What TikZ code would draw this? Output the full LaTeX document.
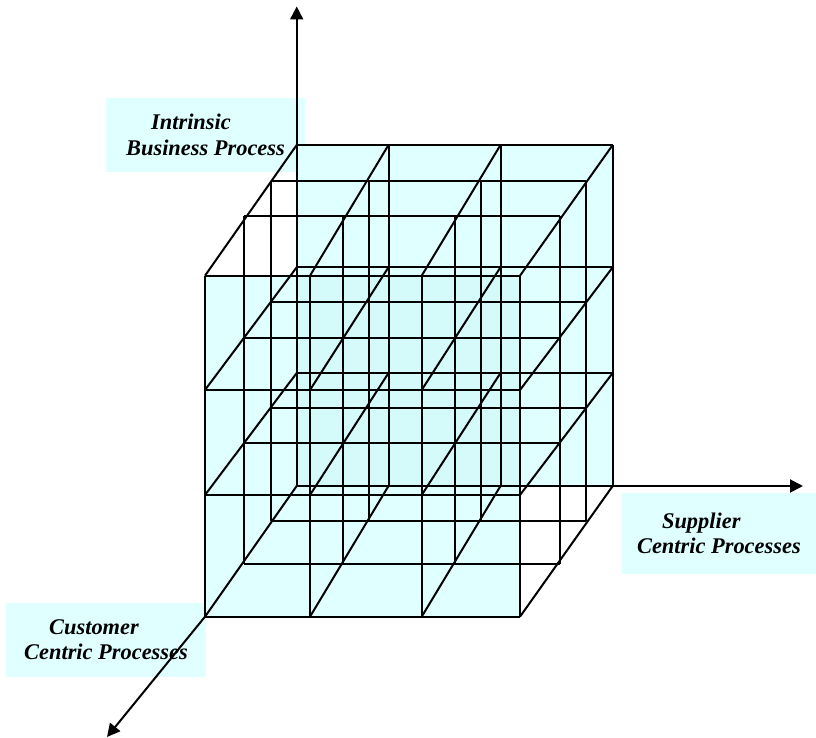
\documentclass[tikz,border=0pt]{standalone}
\usepackage{fontspec}
\setmainfont{Liberation Serif}
\usetikzlibrary{arrows.meta}
\definecolor{cube_cyan}{HTML}{E0FFFF}
\definecolor{cube_overlap}{HTML}{D4FAFA}
\definecolor{label_cyan}{HTML}{E0FFFF}
\tikzset{
  gridline/.style={draw=black, line width=1pt, line join=miter},
  axis/.style={-{Triangle[length=6.5pt,width=6.5pt]}, draw=black, line width=1pt},
  axislabel/.style={fill=label_cyan, align=left, inner sep=0pt,
                    font=\fontsize{11.2}{12.8}\selectfont\bfseries\itshape},
}
% one plane of the cube: grid points name-i-j (i: column, j: row)
\newcommand{\plane}[3]{%
  \foreach \xx [count=\i] in {#2} {%
    \foreach \yy [count=\j] in {#3} {%
      \coordinate (#1-\i-\j) at (\xx,\yy);%
    }%
  }%
}
\newcommand{\planegrid}[1]{%
  \foreach \i in {1,...,4} {\draw[gridline] (#1-\i-1) -- (#1-\i-4);}%
  \foreach \j in {1,...,4} {\draw[gridline] (#1-1-\j) -- (#1-4-\j);}%
}

\begin{document}
\begin{tikzpicture}[x=0.5pt, y=-0.5pt]
  \useasboundingbox (0,0) rectangle (816,738);

  % --- planes, front to back ----------------------------------------------
  \plane{front}{205,310,421.7,520}{275.7,390,495,616.7}
  \plane{mida}{244.3,343.3,455,560}{216,337.7,442.7,564}
  \plane{midb}{270.7,369.3,481.3,586}{180.7,302.5,407.7,521}
  \plane{back}{296.7,388.5,500.5,612.7}{145,267.3,373,486}

  % --- fills ----------------------------------------------------------------
  \fill[cube_cyan] (back-1-1) rectangle (back-4-4);
  \fill[cube_cyan] (front-1-1) rectangle (front-4-4);
  \fill[cube_overlap] (front-1-1 -| back-1-1) rectangle (back-4-4 -| front-4-4);

  % --- labels ---------------------------------------------------------------
  \node[axislabel, minimum width=99.5pt, minimum height=37pt] (zlabel)
    at (205.5,135) {\hspace*{12.5pt}Intrinsic\\Business Process};
  \node[axislabel, minimum width=97pt, minimum height=40.5pt] (xlabel)
    at (718.9,533.5) {\hspace*{12.5pt}Supplier\\Centric Processes};
  \node[axislabel, minimum width=100pt, minimum height=37pt] (ylabel)
    at (106,639.7) {\hspace*{12.5pt}Customer\\Centric Processes};

  % --- grid -----------------------------------------------------------------
  \planegrid{back}
  \planegrid{midb}
  \planegrid{mida}
  \planegrid{front}
  \foreach \i in {1,...,4} {
    \foreach \j in {1,...,4} {\draw[gridline] (front-\i-\j) -- (back-\i-\j);}
  }

  % --- axes -----------------------------------------------------------------
  \coordinate (ztip) at (296.7,6.5);
  \coordinate (xtip) at (803,486);
  \coordinate (ytip) at (107,737);
  \draw[axis] (back-1-4) -- (ztip);
  \draw[axis] (back-1-4) -- (xtip);
  \draw[axis] (front-1-4) -- (ytip);

\end{tikzpicture}
\end{document}
